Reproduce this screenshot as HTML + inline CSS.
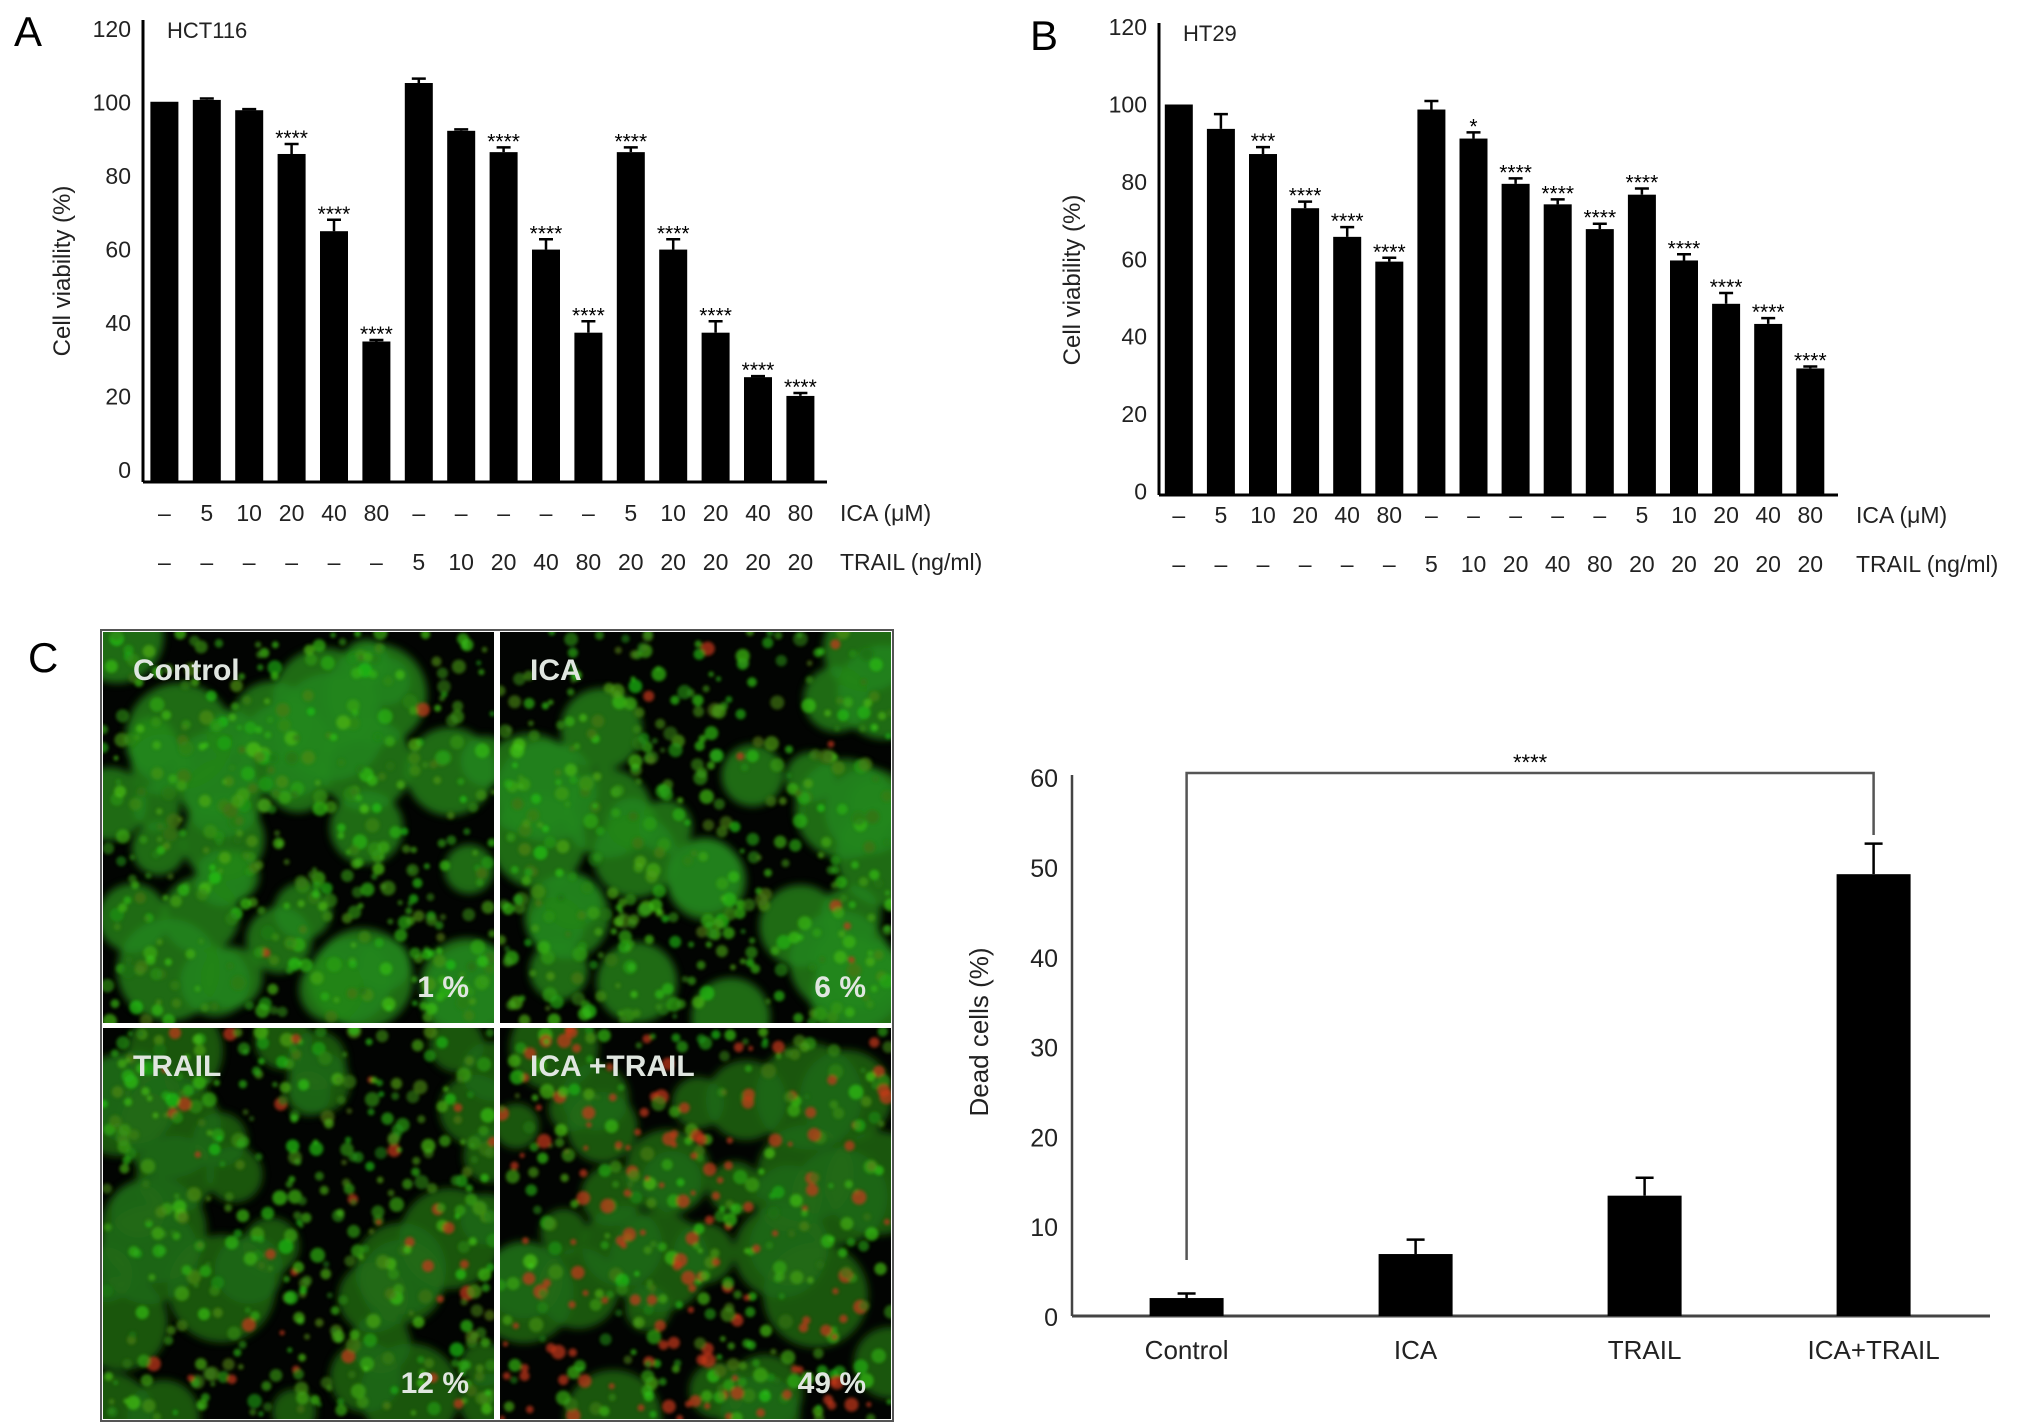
<!DOCTYPE html>
<html><head><meta charset="utf-8"><style>
html,body{margin:0;padding:0;background:#fff;}
svg{display:block;font-family:"Liberation Sans",sans-serif;}
</style></head><body>
<svg id="fig" width="2032" height="1424" viewBox="0 0 2032 1424">
<defs>
<filter id="blur2"><feGaussianBlur stdDeviation="4"/></filter>
<filter id="blur1"><feGaussianBlur stdDeviation="1.5"/></filter>
<clipPath id="c0"><rect x="103" y="632" width="391" height="391"/></clipPath>
<clipPath id="c1"><rect x="500" y="632" width="391" height="391"/></clipPath>
<clipPath id="c2"><rect x="103" y="1028" width="391" height="391"/></clipPath>
<clipPath id="c3"><rect x="500" y="1028" width="391" height="391"/></clipPath>
</defs>
<g id="panelA"></g>
<g id="panelB"></g>
<g id="panelC"></g>
<g id="micro"></g>
<text x="14" y="46" font-size="42">A</text>
<text x="1030" y="50" font-size="42">B</text>
<text x="28" y="672" font-size="42">C</text>
</svg>
<script>
// ---- Panel A data ----
const aValues = [100.2, 100.7, 97.9, 86, 65, 35, 105.3, 92.3, 86.5, 60, 37.4, 86.5, 60, 37.4, 25.3, 20.2];
const aErrors = [0, 0.4, 0.3, 2.7, 3.1, 0.4, 1.2, 0.4, 1.3, 2.8, 3.1, 1.3, 2.8, 3.1, 0.3, 0.8];
const aStars  = ["", "", "", "****", "****", "****", "", "", "****", "****", "****", "****", "****", "****", "****", "****"];
const aTicks  = [0, 20, 40, 60, 80, 100, 120];
// ---- Panel B data ----
const bValues = [100, 93.7, 87.2, 73.2, 65.8, 59.4, 98.7, 91.2, 79.5, 74.2, 67.8, 76.7, 59.7, 48.5, 43.3, 31.8];
const bErrors = [0, 3.8, 1.8, 1.7, 2.5, 1, 2.2, 1.6, 1.4, 1.3, 1.4, 1.6, 1.6, 2.8, 1.5, 0.5];
const bStars  = ["", "", "***", "****", "****", "****", "", "*", "****", "****", "****", "****", "****", "****", "****", "****"];
const bTicks  = [0, 20, 40, 60, 80, 100, 120];
// ---- shared x labels ----
const icaLabels   = ["–", "5", "10", "20", "40", "80", "–", "–", "–", "–", "–", "5", "10", "20", "40", "80"];
const trailLabels = ["–", "–", "–", "–", "–", "–", "5", "10", "20", "40", "80", "20", "20", "20", "20", "20"];
// ---- Panel C data ----
const cCategories = ["Control", "ICA", "TRAIL", "ICA+TRAIL"];
const cValues = [2, 6.9, 13.4, 49.2];
const cErrors = [0.5, 1.6, 2, 3.4];
const cTicks  = [0, 10, 20, 30, 40, 50, 60];
const microLabels = ["Control", "ICA", "TRAIL", "ICA +TRAIL"];
const microPercents = ["1 %", "6 %", "12 %", "49 %"];

const NS = "http://www.w3.org/2000/svg";
function mk(parent, tag, attrs, text) {
  const e = document.createElementNS(NS, tag);
  for (const k in attrs) e.setAttribute(k, attrs[k]);
  if (text !== undefined) e.textContent = text;
  parent.appendChild(e);
  return e;
}

function barPanel(g, cfg) {
  const y = v => cfg.y0 - v * cfg.k;
  const x = i => cfg.x0 + i * cfg.step;
  let e;
  e = mk(g, "line", {x1: cfg.axX, y1: cfg.axTop, x2: cfg.axX, y2: cfg.base, stroke: "#000", "stroke-width": 3});
  
  
  e = mk(g, "line", {x1: cfg.axX, y1: cfg.base, x2: cfg.axEnd, y2: cfg.base, stroke: "#000", "stroke-width": 3});
  
  
  cfg.ticks.forEach(t => {
    e = mk(g, "text", {x: cfg.axX - 12, y: y(t) + 8, "font-size": 23, "text-anchor": "end", fill: "#222"}, String(t));
    
    
  });
  e = mk(g, "text", {x: 0, y: 0, "font-size": 24, "text-anchor": "middle", fill: "#222",
    transform: `translate(${cfg.titleX},${cfg.titleY}) rotate(-90)`}, "Cell viability (%)");
  
  
  e = mk(g, "text", {x: cfg.axX + 24, y: cfg.axTop + 18, "font-size": 22, fill: "#222"}, cfg.cell);
  
  
  cfg.values.forEach((v, i) => {
    const cx = x(i), w = 28;
    e = mk(g, "rect", {x: cx - w / 2, y: y(v), width: w, height: cfg.base - y(v), fill: "#000"});
    
    
    const er = cfg.errors[i];
    if (er > 0) {
      e = mk(g, "path", {d: `M${cx} ${y(v)}V${y(v + er)}M${cx - 7} ${y(v + er)}H${cx + 7}`, stroke: "#000", "stroke-width": 2.5, fill: "none"});
      
      
    }
    if (cfg.stars[i]) {
      e = mk(g, "text", {x: cx, y: y(v + er) + 1, "font-size": 21, "text-anchor": "middle", fill: "#000"}, cfg.stars[i]);
      
      
    }
    e = mk(g, "text", {x: cx, y: cfg.row1, "font-size": 23, "text-anchor": "middle", fill: "#222"}, icaLabels[i]);
    
    
    e = mk(g, "text", {x: cx, y: cfg.row2, "font-size": 23, "text-anchor": "middle", fill: "#222"}, trailLabels[i]);
    
    
  });
  e = mk(g, "text", {x: cfg.labX, y: cfg.row1, "font-size": 23, fill: "#222"}, "ICA (μM)");
  
  
  e = mk(g, "text", {x: cfg.labX, y: cfg.row2, "font-size": 23, fill: "#222"}, "TRAIL (ng/ml)");
  
  
}

barPanel(document.getElementById("panelA"), {
  values: aValues, errors: aErrors, stars: aStars, ticks: aTicks, cell: "HCT116",
  y0: 470.2, k: 3.677, base: 482, x0: 164.4, step: 42.4, axX: 143, axTop: 20, axEnd: 827,
  row1: 521, row2: 570, labX: 840, titleX: 70, titleY: 271
});
barPanel(document.getElementById("panelB"), {
  values: bValues, errors: bErrors, stars: bStars, ticks: bTicks, cell: "HT29",
  y0: 491.5, k: 3.87, base: 495, x0: 1178.8, step: 42.1, axX: 1159, axTop: 23, axEnd: 1838,
  row1: 523, row2: 572, labX: 1856, titleX: 1080, titleY: 280
});

// ---- Panel C chart ----
(function () {
  const g = document.getElementById("panelC");
  const y0 = 1316, k = 8.98, axX = 1072, axEnd = 1990;
  const y = v => y0 - v * k;
  const xs = i => 1186.6 + i * 229;
  let e;
  e = mk(g, "line", {x1: axX, y1: 775, x2: axX, y2: y0, stroke: "#444", "stroke-width": 2.5});
  
  
  e = mk(g, "line", {x1: axX, y1: y0, x2: axEnd, y2: y0, stroke: "#444", "stroke-width": 3});
  
  
  cTicks.forEach(t => {
    e = mk(g, "text", {x: axX - 14, y: y(t) + 10, "font-size": 25, "text-anchor": "end", fill: "#222"}, String(t));
    
    
  });
  e = mk(g, "text", {x: 0, y: 0, "font-size": 26, "text-anchor": "middle", fill: "#222",
    transform: "translate(988,1032) rotate(-90)"}, "Dead cells (%)");
  
  
  cValues.forEach((v, i) => {
    const cx = xs(i), w = 74;
    e = mk(g, "rect", {x: cx - w / 2, y: y(v), width: w, height: y0 - y(v), fill: "#000"});
    
    
    const er = cErrors[i];
    e = mk(g, "path", {d: `M${cx} ${y(v)}V${y(v + er)}M${cx - 9} ${y(v + er)}H${cx + 9}`, stroke: "#000", "stroke-width": 2.5, fill: "none"});
    
    
    e = mk(g, "text", {x: cx, y: 1359, "font-size": 26, "text-anchor": "middle", fill: "#222"}, cCategories[i]);
    
    
  });
  const bx1 = xs(0), bx2 = xs(3), by = 773;
  e = mk(g, "path", {d: `M${bx1} 1260V${by}H${bx2}V835`, stroke: "#555", "stroke-width": 2.5, fill: "none"});
  
  
  e = mk(g, "text", {x: (bx1 + bx2) / 2, y: 770, "font-size": 22, "text-anchor": "middle", fill: "#000"}, "****");
  
  
})();

// ---- Microscopy images (decorative texture) ----
(function () {
  const g = document.getElementById("micro");
  const boxes = [[103, 632], [500, 632], [103, 1028], [500, 1028]];
  const redFrac = [0.005, 0.02, 0.1, 0.35];
  let seed = 12345;
  const rnd = () => { seed = (seed * 16807) % 2147483647; return seed / 2147483647; };
  let e;
  e = mk(g, "rect", {x: 101, y: 630, width: 792, height: 791, fill: "#fff", stroke: "#555", "stroke-width": 2});
  
  
  boxes.forEach(([bx, by], p) => {
    const sub = mk(g, "g", {"clip-path": `url(#c${p})`});
    
    
    mk(sub, "rect", {x: bx, y: by, width: 391, height: 391, fill: "#020402"});
    const blobs = mk(sub, "g", {filter: "url(#blur2)"});
    const density = p >= 2 ? 0.7 : 0.8;
    for (let n = 0; n < 45; n++) {
      const cx = bx + rnd() * 391, cy = by + rnd() * 391;
      if (rnd() > density) continue;
      mk(blobs, "circle", {cx, cy, r: 22 + rnd() * 32, fill: p >= 2 ? "#1f6a14" : "#24861a", opacity: 0.8});
    }
    const cells = mk(sub, "g", {filter: "url(#blur1)"});
    for (let n = 0; n < 420; n++) {
      const cx = bx + rnd() * 391, cy = by + rnd() * 391;
      const red = rnd() < redFrac[p];
      const gr = 110 + Math.floor(rnd() * 90);
      mk(cells, "circle", {cx, cy, r: 2.5 + rnd() * 5,
        fill: red ? "#c8381a" : `rgb(${30 + Math.floor(rnd() * 50)},${gr},20)`, opacity: 0.7});
    }
    e = mk(g, "text", {x: bx + 30, y: by + 48, "font-size": 30, "font-weight": "bold", fill: "#e0e6e0"}, microLabels[p]);
    
    
    e = mk(g, "text", {x: bx + 366, y: by + 365, "font-size": 30, "font-weight": "bold", "text-anchor": "end", fill: "#e0e6e0"}, microPercents[p]);
    
    
  });
})();
</script>
</body></html>
